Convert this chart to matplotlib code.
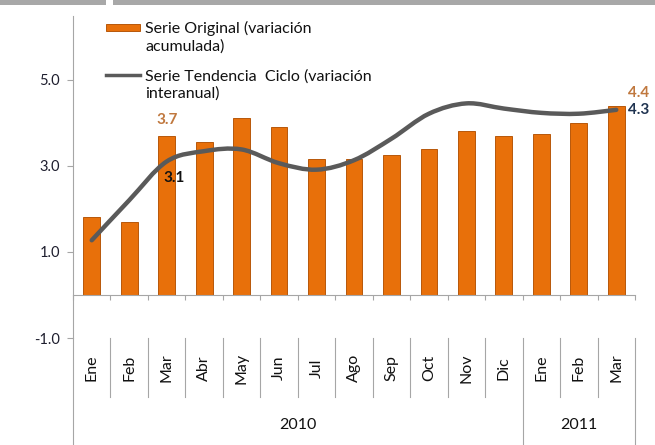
import matplotlib
matplotlib.use("Agg")
import matplotlib.pyplot as plt
import numpy as np
from matplotlib.path import Path
from matplotlib.patches import PathPatch, Rectangle
from matplotlib.lines import Line2D
from matplotlib.transforms import blended_transform_factory

plt.rcParams.update({
    "font.family": ["Lato", "DejaVu Sans"],
    "font.size": 10,
})

# ---- data -------------------------------------------------------------------
MONTHS = ["Ene", "Feb", "Mar", "Abr", "May", "Jun", "Jul", "Ago", "Sep",
          "Oct", "Nov", "Dic", "Ene", "Feb", "Mar"]
YEARS = ["2010", "2011"]
YEAR_SPAN = [12, 3]  # months per year group
ORIGINAL = [1.8, 1.7, 3.7, 3.55, 4.1, 3.9, 3.15, 3.15, 3.25, 3.4, 3.8, 3.7,
            3.75, 4.0, 4.4]
TENDENCIA = [1.27, 2.2, 3.1, 3.34, 3.38, 3.06, 2.91, 3.13, 3.63, 4.21, 4.45,
             4.33, 4.23, 4.21, 4.3]
YTICKS = [-1.0, 1.0, 3.0, 5.0]

C_BAR = "#E8700A"
C_BAR_EDGE = "#B8580A"
C_LINE = "#5A5A5A"
C_AXIS = "#A6A6A6"
C_TXT = "#1E1E2E"


def smooth_path(xs, ys):
    # Excel-style smoothed line: cubic bezier through every point
    pts = np.column_stack([xs, ys]).astype(float)
    ext = np.vstack([pts[0], pts, pts[-1]])
    verts = [pts[0]]
    codes = [Path.MOVETO]
    for i in range(len(pts) - 1):
        p0, p1, p2, p3 = ext[i], ext[i + 1], ext[i + 2], ext[i + 3]
        verts += [p1 + (p2 - p0) / 6, p2 - (p3 - p1) / 6, p2]
        codes += [Path.CURVE4] * 3
    return Path(verts, codes)


fig = plt.figure(figsize=(6.55, 4.45), dpi=100)
W, H = 655, 445
ax = fig.add_axes([73 / W, (H - 338) / H, (635 - 73) / W, (338 - 16) / H])

x = np.arange(len(MONTHS))
ax.bar(x, ORIGINAL, 0.45, color=C_BAR, edgecolor=C_BAR_EDGE, linewidth=0.7,
       zorder=2)
ax.add_patch(PathPatch(smooth_path(x, TENDENCIA), fill=False, edgecolor=C_LINE,
                       linewidth=3.2, capstyle="round", zorder=3))

ax.set_xlim(-0.5, len(MONTHS) - 0.5)
ax.set_ylim(-1.0, 6.48)

# axes
for s in ("top", "right"):
    ax.spines[s].set_visible(False)
ax.spines["left"].set_color(C_AXIS)
ax.spines["bottom"].set_color(C_AXIS)
ax.spines["bottom"].set_position(("data", 0))
ax.set_yticks(YTICKS)
ax.set_yticklabels([f"{v:.1f}" for v in YTICKS], color=C_TXT, fontsize=10.5)
ax.tick_params(axis="y", direction="out", length=4.5, width=0.8, color=C_AXIS,
               pad=5)
ax.set_xticks(np.arange(len(MONTHS) + 1) - 0.5)
ax.set_xticklabels([])
ax.tick_params(axis="x", direction="out", length=3.5, width=0.8, color=C_AXIS)

# category labels (two levels) under the plot
tr = blended_transform_factory(ax.transData, ax.transAxes)
ax.plot([-0.5, -0.5], [0, -0.335], color=C_AXIS, lw=0.8, transform=tr,
        clip_on=False)
for i, m in enumerate(MONTHS):
    ax.text(i, -0.093, m, rotation=90, ha="center", va="center", fontsize=11.5,
            color="#111111", transform=tr)
start = 0
for yr, n in zip(YEARS, YEAR_SPAN):
    for b in range(start + 1, start + n):
        ax.plot([b - 0.5, b - 0.5], [0, -0.183], color=C_AXIS, lw=0.8,
                transform=tr, clip_on=False)
    end = start + n
    ax.plot([end - 0.5, end - 0.5], [0, -0.335], color=C_AXIS, lw=0.8,
            transform=tr, clip_on=False)
    ax.text((start + end - 1) / 2, -0.27, yr, ha="center", va="center",
            fontsize=11.5, color="#111111", transform=tr)
    start = end

# data labels
ax.text(2, ORIGINAL[2] + 0.2, f"{ORIGINAL[2]:.1f}", ha="center", va="bottom",
        color="#C0783E", fontsize=11, fontweight="bold")
ax.text(2.2, TENDENCIA[2] - 0.38, f"{TENDENCIA[2]:.1f}", ha="center",
        va="center", color="#111111", fontsize=11, fontweight="bold")
ax.text(14.3, ORIGINAL[14] + 0.3, f"{ORIGINAL[14]:.1f}", ha="left",
        va="center", color="#C0783E", fontsize=11, fontweight="bold")
ax.text(14.3, TENDENCIA[14], f"{TENDENCIA[14]:.1f}", ha="left", va="center",
        color="#1F3350", fontsize=11, fontweight="bold")


# legend, drawn by hand so handles sit on the first label line
def fx(px):
    return (px - 73) / (635 - 73)


def fy(py):
    return (338 - py) / (338 - 16)


ax.add_patch(Rectangle((fx(106), fy(31)), fx(140) - fx(106), fy(24) - fy(31),
                       transform=ax.transAxes, facecolor=C_BAR,
                       edgecolor=C_BAR_EDGE, lw=0.7, clip_on=False))
ax.add_line(Line2D([fx(106), fx(140)], [fy(75), fy(75)], color=C_LINE, lw=2.5,
                   transform=ax.transAxes))
ax.text(fx(145), fy(37), "Serie Original (variación\nacumulada)",
        transform=ax.transAxes, ha="left", va="center", fontsize=11.5,
        color="#111111", linespacing=1.3)
ax.text(fx(145), fy(85), "Serie Tendencia  Ciclo (variación\ninteranual)",
        transform=ax.transAxes, ha="left", va="center", fontsize=11.5,
        color="#111111", linespacing=1.3)

# grey frame edge at the very top of the picture
fig.add_artist(Rectangle((0, 1 - 5 / H), 106 / W, 5 / H, transform=fig.transFigure,
                         facecolor="#A8A8A8", edgecolor="none"))
fig.add_artist(Rectangle((113 / W, 1 - 5 / H), 1 - 113 / W, 5 / H,
                         transform=fig.transFigure, facecolor="#A8A8A8",
                         edgecolor="none"))

fig.savefig("out.png", dpi=100)
